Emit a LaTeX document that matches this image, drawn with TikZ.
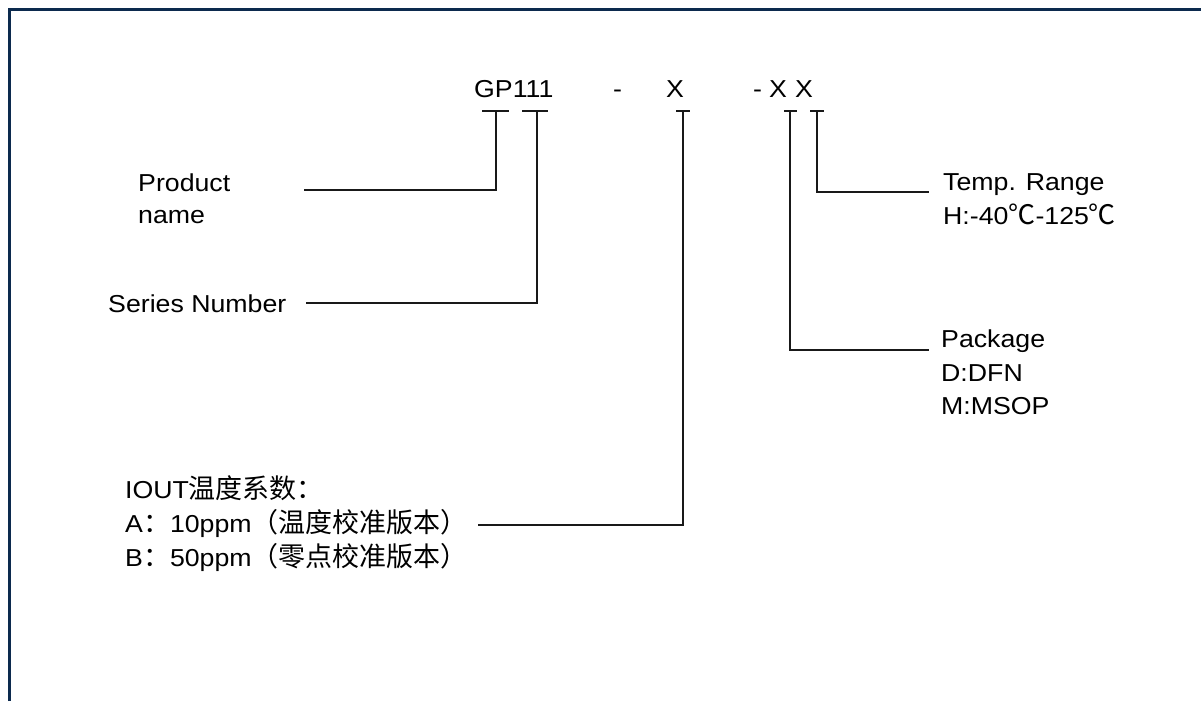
\documentclass[tikz,border=0pt]{standalone}
\usepackage{fontspec}
\setmainfont{Liberation Sans}[FakeStretch=1.09]
\newfontfamily\cjk{Noto Sans CJK SC}
\definecolor{navy}{RGB}{12,42,78}
\newcommand{\zh}[1]{{\fontsize{27}{30}\selectfont\cjk #1}}
\begin{document}
\begin{tikzpicture}[x=1pt,y=-1pt,
  txt/.style={anchor=base west,inner sep=0pt,font=\fontsize{24.5}{29}\selectfont},
  wire/.style={line width=1.4pt,black!90},
  tick/.style={line width=1.4pt,black!90}]
\useasboundingbox (0,0) rectangle (1201,701);
\fill[white] (0,0) rectangle (1201,701);
\draw[navy,line width=3pt] (9,701) -- (9,9.5) -- (1201,9.5);
% code line
\node[txt] (gp) at (474,97) {GP111};
\node[txt] (d1) at (613,97) {-};
\node[txt] (x1) at (666,97) {X};
\node[txt] (d2) at (753,97) {-};
\node[txt] (x2) at (769,97) {X};
\node[txt] (x3) at (795,97) {X};
% labels
\node[txt] (prod) at (138,191) {Product};
\node[txt] (name) at (138,223) {name};
\node[txt] (ser) at (108,312) {Series Number};
\node[txt] (temp) at (943,190) {Temp. Range};
\node[txt] (trng) at (943,224) {H:-40\zh{℃}-125\zh{℃}};
\node[txt] (pkg) at (941,347) {Package};
\node[txt] (dfn) at (941,381) {D:DFN};
\node[txt] (msop) at (941,414) {M:MSOP};
\node[txt] (iout) at (125,498) {IOUT\zh{温度系数：}};
\node[txt] (opta) at (125,532) {A\zh{：}10ppm\zh{（温度校准版本）}};
\node[txt] (optb) at (125,566) {B\zh{：}50ppm\zh{（零点校准版本）}};
% tick marks
\coordinate (ta) at (496,111);
\coordinate (tb) at (537,111);
\coordinate (tc) at (683,111);
\coordinate (td) at (790,111);
\coordinate (te) at (817,111);
\draw[tick] (482,111) -- (509,111);
\draw[tick] (522,111) -- (548,111);
\draw[tick] (676,111) -- (690,111);
\draw[tick] (784,111) -- (797,111);
\draw[tick] (810,111) -- (824,111);
% connector ends
\coordinate (ea) at (304,190);
\coordinate (eb) at (306,303);
\coordinate (ec) at (478,525);
\coordinate (ed) at (929,350);
\coordinate (ee) at (929,192);
\draw[wire] (ta) |- (ea);
\draw[wire] (tb) |- (eb);
\draw[wire] (tc) |- (ec);
\draw[wire] (td) |- (ed);
\draw[wire] (te) |- (ee);
\end{tikzpicture}
\end{document}
